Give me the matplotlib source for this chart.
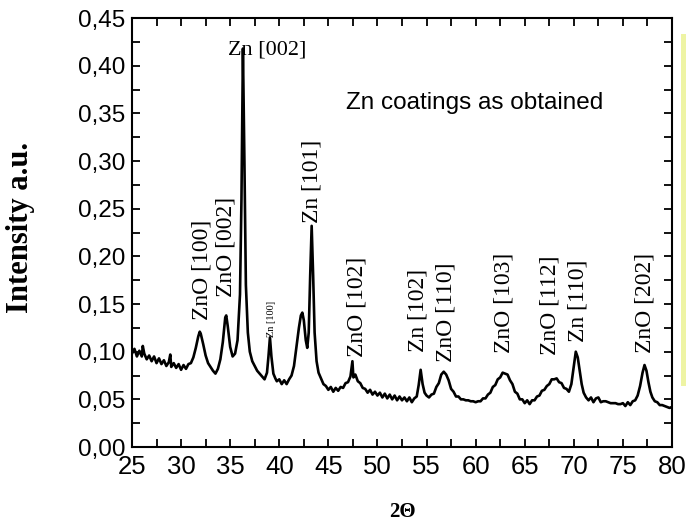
import matplotlib
matplotlib.use("Agg")
import matplotlib.pyplot as plt
from matplotlib.patches import Rectangle
from matplotlib.ticker import MultipleLocator

# Spectre DRX (2theta, intensite)
two_theta = [
    25.0, 25.25, 25.5, 25.75, 26.0, 26.1, 26.25, 26.5, 26.75, 27.0, 27.25, 27.5, 27.75,
    28.0, 28.25, 28.5, 28.75, 28.9, 29.0, 29.25, 29.5, 29.75, 30.0, 30.25, 30.5, 30.75,
    31.0, 31.25, 31.5, 31.75, 31.9, 32.0, 32.25, 32.5, 32.75, 33.0, 33.25, 33.5,
    33.75, 34.0, 34.25, 34.5, 34.6, 34.75, 35.0, 35.25, 35.5, 35.75, 36.0, 36.15,
    36.3, 36.45, 36.6, 36.8, 37.0, 37.25, 37.5, 37.75, 38.0, 38.25, 38.5, 38.75,
    38.9, 39.05, 39.2, 39.4, 39.6, 39.75, 40.0, 40.25, 40.5, 40.75, 41.0, 41.25,
    41.5, 41.75, 42.0, 42.2, 42.35, 42.5, 42.7, 42.85, 43.0, 43.15, 43.3, 43.45,
    43.6, 43.8, 44.0, 44.25, 44.5, 44.75, 45.0, 45.25, 45.5, 45.75, 46.0, 46.25,
    46.5, 46.75, 47.0, 47.25, 47.45, 47.55, 47.75, 48.0, 48.25, 48.5, 48.75, 49.0,
    49.25, 49.5, 49.75, 50.0, 50.25, 50.5, 50.75, 51.0, 51.25, 51.5, 51.75, 52.0,
    52.25, 52.5, 52.75, 53.0, 53.25, 53.5, 53.75, 54.0, 54.2, 54.4, 54.6, 54.8,
    55.0, 55.25, 55.5, 55.75, 56.0, 56.25, 56.5, 56.75, 57.0, 57.25, 57.5, 57.75,
    58.0, 58.25, 58.5, 58.75, 59.0, 59.25, 59.5, 59.75, 60.0, 60.25, 60.5, 60.75,
    61.0, 61.25, 61.5, 61.75, 62.0, 62.25, 62.5, 62.75, 63.0, 63.25, 63.5, 63.75,
    64.0, 64.25, 64.5, 64.75, 65.0, 65.25, 65.5, 65.75, 66.0, 66.25, 66.5, 66.75,
    67.0, 67.25, 67.5, 67.75, 68.0, 68.25, 68.5, 68.75, 69.0, 69.25, 69.5, 69.75,
    70.0, 70.2, 70.4, 70.6, 70.8, 71.0, 71.25, 71.5, 71.75, 72.0, 72.25, 72.5,
    72.75, 73.0, 73.25, 73.5, 73.75, 74.0, 74.25, 74.5, 74.75, 75.0, 75.25, 75.5,
    75.75, 76.0, 76.25, 76.5, 76.75, 77.0, 77.2, 77.4, 77.6, 77.8, 78.0, 78.25,
    78.5, 78.75, 79.0, 79.25, 79.5, 79.75, 80.0,
]
intensite = [
    0.098, 0.103, 0.095, 0.101, 0.095, 0.106, 0.098, 0.092, 0.096, 0.090, 0.095, 0.088, 0.093,
    0.087, 0.091, 0.085, 0.089, 0.097, 0.084, 0.088, 0.083, 0.087, 0.081, 0.086, 0.082, 0.087,
    0.088, 0.094, 0.104, 0.116, 0.121, 0.119, 0.108, 0.096, 0.088, 0.084, 0.080, 0.077,
    0.082, 0.092, 0.110, 0.136, 0.138, 0.127, 0.105, 0.095, 0.098, 0.112, 0.160, 0.260,
    0.418, 0.300, 0.170, 0.120, 0.100, 0.090, 0.085, 0.080, 0.077, 0.074, 0.071, 0.078,
    0.095, 0.115, 0.095, 0.077, 0.072, 0.069, 0.071, 0.066, 0.070, 0.066, 0.071, 0.075,
    0.085, 0.105, 0.125, 0.138, 0.141, 0.133, 0.112, 0.104, 0.120, 0.180, 0.232, 0.180,
    0.120, 0.090, 0.078, 0.072, 0.066, 0.064, 0.060, 0.063, 0.058, 0.062, 0.059, 0.063,
    0.062, 0.067, 0.068, 0.074, 0.090, 0.073, 0.076, 0.069, 0.067, 0.062, 0.061, 0.057,
    0.060, 0.055, 0.058, 0.054, 0.057, 0.052, 0.056, 0.051, 0.055, 0.050, 0.054, 0.049,
    0.053, 0.049, 0.052, 0.048, 0.052, 0.047, 0.051, 0.053, 0.065, 0.081, 0.066, 0.057,
    0.054, 0.052, 0.055, 0.056, 0.063, 0.067, 0.076, 0.079, 0.076, 0.070, 0.061, 0.058,
    0.053, 0.053, 0.050, 0.050, 0.049, 0.049, 0.048, 0.048, 0.047, 0.048, 0.048, 0.051,
    0.051, 0.055, 0.057, 0.063, 0.065, 0.071, 0.073, 0.078, 0.077, 0.076, 0.070, 0.066,
    0.058, 0.056, 0.050, 0.050, 0.046, 0.049, 0.045, 0.049, 0.049, 0.053, 0.054, 0.059,
    0.060, 0.064, 0.066, 0.071, 0.071, 0.072, 0.068, 0.067, 0.062, 0.061, 0.058, 0.066,
    0.085, 0.100, 0.094, 0.080, 0.066, 0.057, 0.052, 0.049, 0.052, 0.047, 0.051, 0.052,
    0.047, 0.048, 0.048, 0.047, 0.046, 0.046, 0.046, 0.045, 0.045, 0.046, 0.043, 0.047,
    0.044, 0.048, 0.049, 0.054, 0.064, 0.078, 0.086, 0.080, 0.068, 0.058, 0.052, 0.048,
    0.047, 0.044, 0.044, 0.043, 0.042, 0.041, 0.042,
]

# Indexation des pics : texte, position 2theta, hauteur du bas du texte
pics_noms = ["ZnO [100]", "ZnO [002]", "Zn [100]", "Zn [101]", "ZnO [102]", "Zn [102]",
             "ZnO [110]", "ZnO [103]", "ZnO [112]", "Zn [110]", "ZnO [202]"]
pics_x = [32.13, 34.57, 39.16, 43.33, 47.92, 54.13, 56.98, 62.89, 67.57, 70.43, 77.25]
pics_y = [0.133, 0.157, 0.115, 0.235, 0.094, 0.100, 0.089, 0.099, 0.097, 0.110, 0.099]
pics_taille = [17, 17, 7.5, 17, 17, 17, 17, 17, 17, 17, 17]

y_ticks = [0.0, 0.05, 0.10, 0.15, 0.20, 0.25, 0.30, 0.35, 0.40, 0.45]
y_tick_labels = ["0,00", "0,05", "0,10", "0,15", "0,20", "0,25", "0,30", "0,35", "0,40", "0,45"]
x_ticks = [25, 30, 35, 40, 45, 50, 55, 60, 65, 70, 75, 80]

fig = plt.figure(figsize=(6.86, 5.24), dpi=100)
ax = fig.add_axes([0.1924, 0.1469, 0.7872, 0.8187])

ax.plot(two_theta, intensite, color="black", lw=1.9)

ax.set_xlim(25, 80)
ax.set_ylim(0, 0.45)
ax.set_xticks(x_ticks)
ax.set_xticklabels([str(v) for v in x_ticks], fontfamily="Liberation Sans", fontsize=18.5)
ax.set_yticks(y_ticks)
ax.set_yticklabels(y_tick_labels, fontfamily="Liberation Sans", fontsize=17.5)
ax.xaxis.set_minor_locator(MultipleLocator(2.5))
ax.yaxis.set_minor_locator(MultipleLocator(0.025))
ax.tick_params(which="both", direction="in", top=True, right=True, length=6, width=1.3)
ax.tick_params(axis="y", which="major", pad=5)
ax.tick_params(axis="x", which="major", pad=6)
for s in ax.spines.values():
    s.set_linewidth(1.5)

# Etiquettes des pics
for nom, x, y, t in zip(pics_noms, pics_x, pics_y, pics_taille):
    ax.text(x, y, nom, rotation=90, ha="center", va="bottom",
            fontfamily="Liberation Serif", fontsize=t)
ax.text(38.75, 0.412, "Zn [002]", ha="center", va="baseline",
        fontfamily="Liberation Serif", fontsize=16)
ax.text(59.94, 0.361, "Zn coatings as obtained", ha="center", va="center",
        fontfamily="Liberation Sans", fontsize=17.5)

# Titres des axes
fig.text(21 / 686, 1 - 227 / 524, "Intensity a.u.", rotation=90, ha="center", va="center",
         fontfamily="Liberation Serif", fontweight="bold", fontsize=22)
fig.text(402 / 686, 1 - 512 / 524, "2\u0398", ha="center", va="center",
         fontfamily="Liberation Serif", fontweight="bold", fontsize=15)

# Barre jaune sur le bord droit
fig.patches.append(Rectangle((681 / 686, 1 - 386 / 524), 5 / 686, 352 / 524,
                             transform=fig.transFigure, facecolor="#eef4a4",
                             edgecolor="none", figure=fig))

fig.savefig("out.png", dpi=100)
